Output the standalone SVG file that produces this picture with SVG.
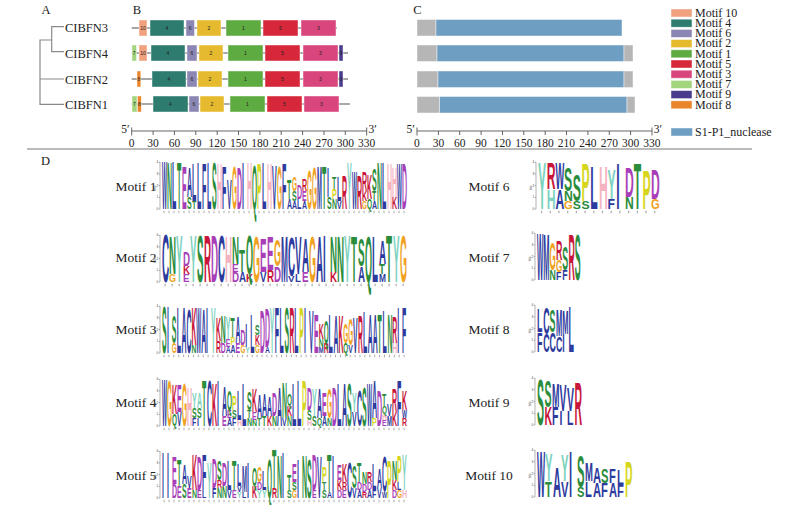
<svg xmlns="http://www.w3.org/2000/svg" xmlns:xlink="http://www.w3.org/1999/xlink" width="800" height="505" viewBox="0 0 800 505">
<style>
.t{font-family:"Liberation Serif","Times New Roman",serif;fill:#222}
.pl{font-size:12.5px}
.lab{font-size:12.5px}
.lg{font-size:12px}
.mt{font-size:13.5px;text-anchor:middle}
.axt{font-size:11.5px;text-anchor:middle}
.tr{stroke:#8a8a8a;stroke-width:1.2;fill:none}
.ln{stroke:#8a8a8a;stroke-width:1.4}
.bx{stroke:#fff;stroke-opacity:.55;stroke-width:.8}
.bl{font-family:"Liberation Sans",Arial,sans-serif;font-size:5px;fill:#222;text-anchor:middle}
.sep{stroke:#777;stroke-width:1}
.axl{stroke:#555;stroke-width:.9;fill:none}
.m10{fill:#F0A17E}.m4{fill:#2E7B6F}.m6{fill:#8C86B4}.m2{fill:#E6BA2E}.m1{fill:#5EAB41}
.m5{fill:#D7273A}.m3{fill:#D9457D}.m7{fill:#A3D57F}.m9{fill:#4A3C8C}.m8{fill:#E9862B}
.gy{fill:#B6B6B6}.bu{fill:#6F9EC3}
.L text{font-family:"Liberation Sans",Arial,sans-serif;font-weight:bold;font-size:14px}
.b{fill:#2D3A9E}.g{fill:#2B8C3B}.p{fill:#A83FB8}.r{fill:#C8163A}.h{fill:#F5B3C0}.o{fill:#F0A323}.y{fill:#D6D61E}.c{fill:#7ED2C0}
.ya{stroke:#444;stroke-width:.4;fill:none}
.tn{font-family:"Liberation Sans",Arial,sans-serif;font-size:3px;fill:#444;text-anchor:end}
.pos{stroke:#666;stroke-opacity:.55;stroke-width:2.6;fill:none}
</style>
<defs>
<g id="axis">
<path class="axl" d="M131.7 131H366.7M131.7 127.5V135.5M366.7 127.5V135.5M153.1 131V135M174.4 131V135M195.8 131V135M217.2 131V135M238.5 131V135M259.9 131V135M281.2 131V135M302.6 131V135M324 131V135M345.3 131V135"/>
<g class="t axt">
<text x="131.7" y="146.5">0</text><text x="153.1" y="146.5">30</text><text x="174.4" y="146.5">60</text><text x="195.8" y="146.5">90</text><text x="217.2" y="146.5">120</text><text x="238.5" y="146.5">150</text><text x="259.9" y="146.5">180</text><text x="281.2" y="146.5">210</text><text x="302.6" y="146.5">240</text><text x="324" y="146.5">270</text><text x="345.3" y="146.5">300</text><text x="366.7" y="146.5">330</text>
</g>
<text class="t" x="129.5" y="132.5" font-size="11.5" text-anchor="end">5′</text>
<text class="t" x="368.5" y="132.5" font-size="11.5">3′</text>
</g>
<g id="yax">
<path class="ya" d="M-2 0V-47M-3.3 0H-2M-3.3 -11.7H-2M-3.3 -23.4H-2M-3.3 -35.1H-2M-3.3 -46.8H-2"/>
<text class="tn" x="-3.8" y="1">0</text><text class="tn" x="-3.8" y="-10.7">1</text><text class="tn" x="-3.8" y="-22.4">2</text><text class="tn" x="-3.8" y="-34.1">3</text><text class="tn" x="-3.8" y="-45.8">4</text>
<text class="tn" transform="translate(-6.5 -23.4) rotate(-90)" text-anchor="middle">bits</text>
</g>
</defs>
<rect width="800" height="505" fill="#fff"/>

<g id="panel-labels" class="t pl">
<text x="41.5" y="14">A</text><text x="132.7" y="14">B</text><text x="413.3" y="13.5">C</text><text x="41" y="165">D</text>
</g>

<g id="connectors">
<path class="tr" d="M64 26.7H51.7V51.7H64M51.7 40H40V104.3H64M40 79H64"/>
<path class="ln" d="M131.7 28H337M131.7 53H348M131.7 79H348M131.7 104H350"/>
<line class="sep" x1="27" y1="149" x2="752" y2="149"/>
</g>

<g id="tree-labels" class="t lab">
<text id="CIBFN3" x="65" y="32">CIBFN3</text>
<text id="CIBFN4" x="65" y="57.5">CIBFN4</text>
<text id="CIBFN2" x="65" y="83.5">CIBFN2</text>
<text id="CIBFN1" x="65" y="108.5">CIBFN1</text>
</g>

<g id="motifs-CIBFN3">
<rect class="bx m10" x="139" y="20" width="8" height="16"/><text class="bl" x="143" y="29.8">10</text>
<rect class="bx m4" x="150" y="20" width="34" height="16"/><text class="bl" x="167" y="29.8">4</text>
<rect class="bx m6" x="186" y="20" width="8.5" height="16"/><text class="bl" x="190.2" y="29.8">6</text>
<rect class="bx m2" x="197" y="20" width="24" height="16"/><text class="bl" x="209" y="29.8">2</text>
<rect class="bx m1" x="226" y="20" width="35" height="16"/><text class="bl" x="243.5" y="29.8">1</text>
<rect class="bx m5" x="263" y="20" width="35" height="16"/><text class="bl" x="280.5" y="29.8">5</text>
<rect class="bx m3" x="301" y="20" width="35" height="16"/><text class="bl" x="318.5" y="29.8">3</text>
</g>
<g id="motifs-CIBFN4">
<rect class="bx m7" x="132" y="45" width="4.5" height="16"/><text class="bl" x="134.2" y="54.8">7</text>
<rect class="bx m10" x="139" y="45" width="8" height="16"/><text class="bl" x="143" y="54.8">10</text>
<rect class="bx m4" x="151" y="45" width="34" height="16"/><text class="bl" x="168" y="54.8">4</text>
<rect class="bx m6" x="187" y="45" width="10" height="16"/><text class="bl" x="192" y="54.8">6</text>
<rect class="bx m2" x="199" y="45" width="24" height="16"/><text class="bl" x="211" y="54.8">2</text>
<rect class="bx m1" x="228" y="45" width="35" height="16"/><text class="bl" x="245.5" y="54.8">1</text>
<rect class="bx m5" x="265" y="45" width="35" height="16"/><text class="bl" x="282.5" y="54.8">5</text>
<rect class="bx m3" x="303" y="45" width="35" height="16"/><text class="bl" x="320.5" y="54.8">3</text>
<rect class="bx m9" x="339" y="45" width="4" height="16"/><text class="bl" x="341" y="54.8">9</text>
</g>
<g id="motifs-CIBFN2">
<rect class="bx m8" x="137" y="71" width="3.8" height="16"/><text class="bl" x="138.9" y="80.8">8</text>
<rect class="bx m4" x="152" y="71" width="34" height="16"/><text class="bl" x="169" y="80.8">4</text>
<rect class="bx m6" x="187" y="71" width="10" height="16"/><text class="bl" x="192" y="80.8">6</text>
<rect class="bx m2" x="198" y="71" width="24" height="16"/><text class="bl" x="210" y="80.8">2</text>
<rect class="bx m1" x="228" y="71" width="35" height="16"/><text class="bl" x="245.5" y="80.8">1</text>
<rect class="bx m5" x="265" y="71" width="35" height="16"/><text class="bl" x="282.5" y="80.8">5</text>
<rect class="bx m3" x="303" y="71" width="35" height="16"/><text class="bl" x="320.5" y="80.8">3</text>
<rect class="bx m9" x="339" y="71" width="4" height="16"/><text class="bl" x="341" y="80.8">9</text>
</g>
<g id="motifs-CIBFN1">
<rect class="bx m7" x="132" y="96" width="5" height="16"/><text class="bl" x="134.5" y="105.8">7</text>
<rect class="bx m8" x="137.5" y="96" width="3.8" height="16"/><text class="bl" x="139.4" y="105.8">8</text>
<rect class="bx m4" x="153" y="96" width="35" height="16"/><text class="bl" x="170.5" y="105.8">4</text>
<rect class="bx m6" x="189" y="96" width="10" height="16"/><text class="bl" x="194" y="105.8">6</text>
<rect class="bx m2" x="200" y="96" width="24" height="16"/><text class="bl" x="212" y="105.8">2</text>
<rect class="bx m1" x="230" y="96" width="35" height="16"/><text class="bl" x="247.5" y="105.8">1</text>
<rect class="bx m5" x="267" y="96" width="35" height="16"/><text class="bl" x="284.5" y="105.8">5</text>
<rect class="bx m3" x="304" y="96" width="35" height="16"/><text class="bl" x="321.5" y="105.8">3</text>
</g>

<g id="domains">
<rect class="bx gy" x="417" y="19.5" width="19" height="16.5"/><rect class="bx bu" x="436" y="19.5" width="186" height="16.5"/>
<rect class="bx gy" x="417" y="45" width="20" height="16.5"/><rect class="bx bu" x="437" y="45" width="187" height="16.5"/><rect class="bx gy" x="624" y="45" width="9" height="16.5"/>
<rect class="bx gy" x="417" y="71" width="21" height="16.5"/><rect class="bx bu" x="438" y="71" width="186" height="16.5"/><rect class="bx gy" x="624" y="71" width="9" height="16.5"/>
<rect class="bx gy" x="417" y="96.5" width="22.5" height="16.5"/><rect class="bx bu" x="439.5" y="96.5" width="187.5" height="16.5"/><rect class="bx gy" x="627" y="96.5" width="8" height="16.5"/>
</g>

<g id="axisB"><use href="#axis"/></g>
<g id="axisC"><use href="#axis" x="285.3"/></g>

<g id="legend" class="t lg">
<rect class="bx m10" x="671" y="9" width="21" height="8"/><text x="695" y="16.8">Motif 10</text>
<rect class="bx m4" x="671" y="19.2" width="21" height="8"/><text x="695" y="27">Motif 4</text>
<rect class="bx m6" x="671" y="29.4" width="21" height="8"/><text x="695" y="37.2">Motif 6</text>
<rect class="bx m2" x="671" y="39.6" width="21" height="8"/><text x="695" y="47.4">Motif 2</text>
<rect class="bx m1" x="671" y="49.8" width="21" height="8"/><text x="695" y="57.6">Motif 1</text>
<rect class="bx m5" x="671" y="60" width="21" height="8"/><text x="695" y="67.8">Motif 5</text>
<rect class="bx m3" x="671" y="70.2" width="21" height="8"/><text x="695" y="78">Motif 3</text>
<rect class="bx m7" x="671" y="80.4" width="21" height="8"/><text x="695" y="88.2">Motif 7</text>
<rect class="bx m9" x="671" y="90.6" width="21" height="8"/><text x="695" y="98.4">Motif 9</text>
<rect class="bx m8" x="671" y="100.8" width="21" height="8"/><text x="695" y="108.6">Motif 8</text>
<rect class="bx bu" x="671" y="128" width="21.5" height="8"/><text x="695" y="135.8">S1-P1_nuclease</text>
</g>

<g id="motif-labels" class="t mt">
<text x="136" y="191">Motif 1</text><text x="136" y="261.5">Motif 2</text><text x="136" y="334">Motif 3</text><text x="136" y="407">Motif 4</text><text x="136" y="479.5">Motif 5</text>
<text x="489" y="191">Motif 6</text><text x="489" y="261.5">Motif 7</text><text x="489" y="334">Motif 8</text><text x="489" y="407">Motif 9</text><text x="489" y="479.5">Motif 10</text>
</g>

<g id="logo-axes">
<use href="#yax" x="162" y="209"/><use href="#yax" x="162" y="282"/><use href="#yax" x="162" y="353"/><use href="#yax" x="162" y="426"/><use href="#yax" x="162" y="498"/>
<use href="#yax" x="538" y="209"/><use href="#yax" x="537" y="280"/><use href="#yax" x="537" y="352"/><use href="#yax" x="537" y="425"/><use href="#yax" x="537" y="497"/>
<path class="pos" stroke-dasharray="1 4" d="M163.5 212H407"/>
<path class="pos" stroke-dasharray="1.2 5.8" d="M164.5 285H407"/>
<path class="pos" stroke-dasharray="1 3.9" d="M163.5 356H407"/>
<path class="pos" stroke-dasharray="1 4" d="M163.5 429H407"/>
<path class="pos" stroke-dasharray="1 4" d="M163.5 501H407"/>
<path class="pos" stroke-dasharray="1.2 7.5" d="M541 212H660"/>
</g>

<g id="logo1" class="L" transform="translate(162 209) scale(.5 1)">
<text class="b" transform="matrix(.76 0 0 4.9 0 0)">W</text>
<text class="g" transform="matrix(1 0 0 4.8 10 0)">N</text>
<text class="b" transform="matrix(1 0 0 4.9 20 0)">L</text>
<text class="g" transform="matrix(1 0 0 4.7 30 0)">T</text>
<text class="p" transform="matrix(1 0 0 4.4 40 0)">E</text>
<text class="g" transform="matrix(1 0 0 1.2 50 0)">S</text><text class="b" transform="matrix(1 0 0 3 50 -12)">A</text>
<text class="g" transform="matrix(1 0 0 .8 60 0)">T</text><text class="b" transform="matrix(1 0 0 3.8 60 -8)">L</text>
<text class="b" transform="matrix(1 0 0 4.7 70 0)">L</text>
<text class="b" transform="matrix(1 0 0 4.6 80 0)">F</text>
<text class="b" transform="matrix(1 0 0 4.8 90 0)">L</text>
<text class="g" transform="matrix(1 0 0 4.7 100 0)">S</text>
<text class="h" transform="matrix(1 0 0 4.6 110 0)">H</text>
<text class="b" transform="matrix(1 0 0 4.4 120 0)">F</text>
<text class="b" transform="matrix(1 0 0 3 130 0)">V</text>
<text class="o" transform="matrix(.92 0 0 4.3 140 0)">G</text>
<text class="p" transform="matrix(1 0 0 4.2 150 0)">D</text>
<text class="b" transform="matrix(1 0 0 4.8 160 0)">I</text>
<text class="h" transform="matrix(1 0 0 4.7 170 0)">H</text>
<text class="g" transform="matrix(.92 0 0 4.5 180 0)">Q</text>
<text class="y" transform="matrix(1 0 0 4.6 190 0)">P</text>
<text class="b" transform="matrix(1 0 0 4.8 200 0)">L</text>
<text class="h" transform="matrix(1 0 0 4.6 210 0)">H</text>
<text class="b" transform="matrix(1 0 0 4.5 220 0)">V</text>
<text class="o" transform="matrix(.92 0 0 4.4 230 0)">G</text>
<text class="b" transform="matrix(1 0 0 4.6 240 0)">F</text>
<text class="b" transform="matrix(1 0 0 1 250 0)">A</text><text class="g" transform="matrix(1 0 0 2 250 -10)">T</text>
<text class="b" transform="matrix(1 0 0 .8 260 0)">A</text><text class="g" transform="matrix(1 0 0 1 260 -8)">S</text><text class="o" transform="matrix(.92 0 0 1.5 260 -18)">G</text>
<text class="b" transform="matrix(1 0 0 1 270 0)">L</text><text class="p" transform="matrix(1 0 0 1.4 270 -10)">D</text>
<text class="b" transform="matrix(1 0 0 .8 280 0)">A</text><text class="p" transform="matrix(1 0 0 1 280 -8)">E</text><text class="r" transform="matrix(1 0 0 1.2 280 -18)">R</text>
<text class="o" transform="matrix(.92 0 0 4 290 0)">G</text>
<text class="o" transform="matrix(.92 0 0 4.2 300 0)">G</text>
<text class="b" transform="matrix(.85 0 0 4.4 310 0)">M</text>
<text class="g" transform="matrix(1 0 0 4.4 320 0)">T</text>
<text class="g" transform="matrix(1 0 0 1.2 330 0)">S</text><text class="b" transform="matrix(1 0 0 3 330 -12)">I</text>
<text class="g" transform="matrix(1 0 0 1 340 0)">N</text><text class="y" transform="matrix(1 0 0 1 340 -10)">P</text><text class="g" transform="matrix(1 0 0 1.2 340 -20)">T</text>
<text class="b" transform="matrix(1 0 0 .8 350 0)">V</text><text class="b" transform="matrix(1 0 0 2.5 350 -8)">L</text>
<text class="r" transform="matrix(1 0 0 3.5 360 0)">R</text>
<text class="c" transform="matrix(1 0 0 4.7 370 0)">Y</text>
<text class="b" transform="matrix(.76 0 0 3.8 380 0)">W</text>
<text class="r" transform="matrix(1 0 0 3.5 390 0)">R</text>
<text class="o" transform="matrix(.92 0 0 .8 400 0)">G</text><text class="r" transform="matrix(1 0 0 1 400 -8)">K</text><text class="r" transform="matrix(1 0 0 2 400 -18)">R</text>
<text class="g" transform="matrix(.92 0 0 1 410 0)">Q</text><text class="r" transform="matrix(1 0 0 2.5 410 -10)">K</text>
<text class="b" transform="matrix(1 0 0 .8 420 0)">A</text><text class="g" transform="matrix(1 0 0 1 420 -8)">T</text><text class="g" transform="matrix(1 0 0 2.2 420 -18)">S</text>
<text class="g" transform="matrix(1 0 0 4.7 430 0)">N</text>
<text class="b" transform="matrix(1 0 0 4.8 440 0)">L</text>
<text class="h" transform="matrix(1 0 0 4.6 450 0)">H</text>
<text class="r" transform="matrix(1 0 0 1.2 460 0)">K</text><text class="h" transform="matrix(1 0 0 3 460 -12)">H</text>
<text class="b" transform="matrix(.76 0 0 4.6 470 0)">W</text>
<text class="p" transform="matrix(1 0 0 4.6 480 0)">D</text>
</g>

<g id="logo2" class="L" transform="translate(162 282) scale(.7 1)">
<text class="b" transform="matrix(1 0 0 4.9 0 0)">C</text>
<text class="o" transform="matrix(.92 0 0 .8 10 0)">G</text><text class="g" transform="matrix(1 0 0 3.8 10 -8)">N</text>
<text class="c" transform="matrix(1 0 0 4.7 20 0)">Y</text>
<text class="p" transform="matrix(1 0 0 .8 30 0)">E</text><text class="r" transform="matrix(1 0 0 .8 30 -8)">K</text><text class="p" transform="matrix(1 0 0 1.4 30 -16)">D</text>
<text class="c" transform="matrix(1 0 0 4.7 40 0)">Y</text>
<text class="g" transform="matrix(1 0 0 4.8 50 0)">S</text>
<text class="r" transform="matrix(1 0 0 4.8 60 0)">R</text>
<text class="p" transform="matrix(1 0 0 4.8 70 0)">D</text>
<text class="b" transform="matrix(1 0 0 4.7 80 0)">C</text>
<text class="h" transform="matrix(1 0 0 4.6 90 0)">H</text>
<text class="p" transform="matrix(1 0 0 1 100 0)">D</text><text class="p" transform="matrix(1 0 0 .8 100 -10)">E</text><text class="g" transform="matrix(1 0 0 2.8 100 -18)">N</text>
<text class="b" transform="matrix(1 0 0 1 110 0)">A</text><text class="g" transform="matrix(1 0 0 2.2 110 -10)">T</text>
<text class="r" transform="matrix(1 0 0 .8 120 0)">K</text><text class="g" transform="matrix(.92 0 0 4 120 -8)">Q</text>
<text class="o" transform="matrix(.92 0 0 4.6 130 0)">G</text>
<text class="b" transform="matrix(1 0 0 1 140 0)">V</text><text class="p" transform="matrix(1 0 0 3.4 140 -10)">E</text>
<text class="r" transform="matrix(1 0 0 1.2 150 0)">R</text><text class="p" transform="matrix(1 0 0 3.4 150 -12)">E</text>
<text class="p" transform="matrix(1 0 0 1.6 160 0)">D</text><text class="o" transform="matrix(.92 0 0 2.6 160 -16)">G</text>
<text class="b" transform="matrix(.85 0 0 4.6 170 0)">M</text>
<text class="b" transform="matrix(1 0 0 .6 180 0)">V</text><text class="b" transform="matrix(1 0 0 4 180 -6)">C</text>
<text class="b" transform="matrix(1 0 0 .8 190 0)">L</text><text class="b" transform="matrix(1 0 0 3.8 190 -8)">V</text>
<text class="p" transform="matrix(1 0 0 1 200 0)">E</text><text class="b" transform="matrix(1 0 0 3.4 200 -10)">A</text>
<text class="o" transform="matrix(.92 0 0 4.6 210 0)">G</text>
<text class="b" transform="matrix(1 0 0 4.6 220 0)">A</text>
<text class="b" transform="matrix(1 0 0 4.8 230 0)">I</text>
<text class="r" transform="matrix(1 0 0 1 240 0)">K</text><text class="g" transform="matrix(1 0 0 3.6 240 -10)">N</text>
<text class="g" transform="matrix(1 0 0 4.6 250 0)">N</text>
<text class="c" transform="matrix(1 0 0 4.7 260 0)">Y</text>
<text class="g" transform="matrix(1 0 0 4.6 270 0)">T</text>
<text class="b" transform="matrix(1 0 0 1.6 280 0)">A</text><text class="g" transform="matrix(1 0 0 2.8 280 -16)">S</text>
<text class="g" transform="matrix(.92 0 0 4.6 290 0)">Q</text>
<text class="b" transform="matrix(1 0 0 4.6 300 0)">L</text>
<text class="b" transform="matrix(.85 0 0 .8 310 0)">M</text><text class="g" transform="matrix(1 0 0 1 310 -8)">T</text><text class="b" transform="matrix(1 0 0 2.4 310 -18)">A</text>
<text class="g" transform="matrix(1 0 0 4.7 320 0)">T</text>
<text class="c" transform="matrix(1 0 0 4.7 330 0)">Y</text>
<text class="o" transform="matrix(.92 0 0 4.7 340 0)">G</text>
</g>

<g id="logo3" class="L" transform="translate(162 353) scale(.49 1)">
<text class="g" transform="matrix(1 0 0 4.8 0 0)">S</text>
<text class="b" transform="matrix(1 0 0 4.7 10 0)">I</text>
<text class="o" transform="matrix(.92 0 0 1 20 0)">G</text><text class="g" transform="matrix(1 0 0 2.8 20 -10)">S</text>
<text class="b" transform="matrix(1 0 0 4.6 30 0)">L</text>
<text class="b" transform="matrix(1 0 0 4.6 40 0)">A</text>
<text class="b" transform="matrix(1 0 0 4.5 50 0)">C</text>
<text class="g" transform="matrix(1 0 0 .8 60 0)">N</text><text class="r" transform="matrix(1 0 0 3.8 60 -8)">K</text>
<text class="b" transform="matrix(.76 0 0 4.6 70 0)">W</text>
<text class="b" transform="matrix(1 0 0 4.5 80 0)">A</text>
<text class="b" transform="matrix(1 0 0 4.6 90 0)">I</text>
<text class="c" transform="matrix(1 0 0 4.6 100 0)">Y</text>
<text class="r" transform="matrix(1 0 0 1.2 110 0)">R</text><text class="r" transform="matrix(1 0 0 2.4 110 -12)">K</text>
<text class="p" transform="matrix(1 0 0 1 120 0)">D</text><text class="g" transform="matrix(1 0 0 2.8 120 -10)">N</text>
<text class="b" transform="matrix(1 0 0 .6 130 0)">A</text><text class="p" transform="matrix(1 0 0 .8 130 -6)">E</text><text class="c" transform="matrix(1 0 0 2.2 130 -14)">Y</text>
<text class="b" transform="matrix(1 0 0 .8 140 0)">A</text><text class="y" transform="matrix(1 0 0 .8 140 -8)">P</text><text class="g" transform="matrix(1 0 0 2 140 -16)">T</text>
<text class="p" transform="matrix(1 0 0 1 150 0)">E</text><text class="b" transform="matrix(1 0 0 2.6 150 -10)">A</text>
<text class="o" transform="matrix(.92 0 0 .8 160 0)">G</text><text class="p" transform="matrix(1 0 0 1.6 160 -8)">D</text>
<text class="c" transform="matrix(1 0 0 .6 170 0)">Y</text><text class="b" transform="matrix(1 0 0 2.4 170 -6)">I</text>
<text class="b" transform="matrix(1 0 0 4 180 0)">L</text>
<text class="o" transform="matrix(.92 0 0 .8 190 0)">G</text><text class="r" transform="matrix(1 0 0 1 190 -8)">K</text><text class="g" transform="matrix(1 0 0 1 190 -18)">S</text>
<text class="p" transform="matrix(1 0 0 4.4 200 0)">D</text>
<text class="b" transform="matrix(1 0 0 .6 210 0)">A</text><text class="p" transform="matrix(1 0 0 4 210 -6)">D</text>
<text class="c" transform="matrix(1 0 0 4.6 220 0)">Y</text>
<text class="b" transform="matrix(1 0 0 4.6 230 0)">F</text>
<text class="b" transform="matrix(1 0 0 4.6 240 0)">L</text>
<text class="g" transform="matrix(1 0 0 4.6 250 0)">S</text>
<text class="r" transform="matrix(1 0 0 4.6 260 0)">R</text>
<text class="b" transform="matrix(1 0 0 4.6 270 0)">L</text>
<text class="y" transform="matrix(1 0 0 4.6 280 0)">P</text>
<text class="b" transform="matrix(1 0 0 4.6 290 0)">I</text>
<text class="b" transform="matrix(1 0 0 4.4 300 0)">V</text>
<text class="p" transform="matrix(1 0 0 4 310 0)">E</text>
<text class="b" transform="matrix(.85 0 0 .6 320 0)">M</text><text class="g" transform="matrix(1 0 0 .8 320 -6)">N</text><text class="r" transform="matrix(1 0 0 1.6 320 -14)">K</text>
<text class="r" transform="matrix(1 0 0 1 330 0)">R</text><text class="g" transform="matrix(.92 0 0 2.2 330 -10)">Q</text>
<text class="b" transform="matrix(1 0 0 4 340 0)">L</text>
<text class="b" transform="matrix(1 0 0 3.8 350 0)">A</text>
<text class="r" transform="matrix(1 0 0 3.8 360 0)">K</text>
<text class="g" transform="matrix(.92 0 0 1 370 0)">Q</text><text class="o" transform="matrix(.92 0 0 2 370 -10)">G</text>
<text class="b" transform="matrix(1 0 0 .8 380 0)">V</text><text class="o" transform="matrix(.92 0 0 2.6 380 -8)">G</text>
<text class="b" transform="matrix(1 0 0 3.6 390 0)">V</text>
<text class="r" transform="matrix(1 0 0 3.8 400 0)">R</text>
<text class="b" transform="matrix(1 0 0 4.2 410 0)">L</text>
<text class="b" transform="matrix(1 0 0 4 420 0)">A</text>
<text class="b" transform="matrix(1 0 0 4 430 0)">A</text>
<text class="g" transform="matrix(1 0 0 4 440 0)">T</text>
<text class="b" transform="matrix(1 0 0 4.4 450 0)">L</text>
<text class="g" transform="matrix(1 0 0 4 460 0)">N</text>
<text class="h" transform="matrix(1 0 0 1 470 0)">H</text><text class="r" transform="matrix(1 0 0 2.6 470 -10)">R</text>
<text class="b" transform="matrix(1 0 0 4.6 480 0)">I</text>
<text class="b" transform="matrix(1 0 0 4.6 490 0)">F</text>
</g>

<g id="logo4" class="L" transform="translate(162 426) scale(.5 1)">
<text class="b" transform="matrix(.76 0 0 4.7 0 0)">W</text>
<text class="o" transform="matrix(.92 0 0 4.6 10 0)">G</text>
<text class="g" transform="matrix(.92 0 0 1.2 20 0)">Q</text><text class="r" transform="matrix(1 0 0 3 20 -12)">K</text>
<text class="b" transform="matrix(1 0 0 1.4 30 0)">V</text><text class="p" transform="matrix(1 0 0 2.8 30 -14)">E</text>
<text class="o" transform="matrix(.92 0 0 4.4 40 0)">G</text>
<text class="h" transform="matrix(1 0 0 4 50 0)">H</text>
<text class="b" transform="matrix(1 0 0 .8 60 0)">F</text><text class="g" transform="matrix(1 0 0 1 60 -8)">S</text><text class="c" transform="matrix(1 0 0 1.6 60 -18)">Y</text>
<text class="b" transform="matrix(1 0 0 .8 70 0)">I</text><text class="g" transform="matrix(1 0 0 1 70 -8)">S</text><text class="c" transform="matrix(1 0 0 1.6 70 -18)">A</text>
<text class="g" transform="matrix(1 0 0 4.6 80 0)">T</text>
<text class="b" transform="matrix(1 0 0 4.6 90 0)">C</text>
<text class="r" transform="matrix(1 0 0 4.4 100 0)">K</text>
<text class="b" transform="matrix(1 0 0 4.6 110 0)">I</text>
<text class="p" transform="matrix(1 0 0 1 120 0)">E</text><text class="b" transform="matrix(1 0 0 3 120 -10)">A</text>
<text class="b" transform="matrix(1 0 0 .8 130 0)">A</text><text class="p" transform="matrix(1 0 0 .8 130 -8)">E</text><text class="g" transform="matrix(.92 0 0 2 130 -16)">Q</text>
<text class="b" transform="matrix(1 0 0 .8 140 0)">F</text><text class="g" transform="matrix(1 0 0 .8 140 -8)">S</text><text class="y" transform="matrix(1 0 0 1.4 140 -16)">P</text>
<text class="h" transform="matrix(1 0 0 .6 150 0)">H</text><text class="b" transform="matrix(1 0 0 3 150 -6)">L</text>
<text class="b" transform="matrix(1 0 0 4.4 160 0)">L</text>
<text class="g" transform="matrix(1 0 0 .8 170 0)">N</text><text class="g" transform="matrix(1 0 0 .8 170 -8)">T</text><text class="g" transform="matrix(1 0 0 1.8 170 -16)">S</text>
<text class="g" transform="matrix(1 0 0 .6 180 0)">N</text><text class="p" transform="matrix(1 0 0 .8 180 -6)">E</text><text class="r" transform="matrix(1 0 0 2.4 180 -14)">K</text>
<text class="g" transform="matrix(1 0 0 .8 190 0)">T</text><text class="b" transform="matrix(1 0 0 2.4 190 -8)">A</text>
<text class="g" transform="matrix(1 0 0 1 200 0)">T</text><text class="b" transform="matrix(1 0 0 2.2 200 -10)">A</text>
<text class="r" transform="matrix(1 0 0 1 210 0)">K</text><text class="b" transform="matrix(1 0 0 2 210 -10)">A</text>
<text class="g" transform="matrix(1 0 0 1 220 0)">N</text><text class="p" transform="matrix(1 0 0 2.4 220 -10)">D</text>
<text class="b" transform="matrix(1 0 0 4 230 0)">A</text>
<text class="b" transform="matrix(1 0 0 .8 240 0)">V</text><text class="g" transform="matrix(1 0 0 3.6 240 -8)">N</text>
<text class="g" transform="matrix(1 0 0 1 250 0)">N</text><text class="r" transform="matrix(1 0 0 1 250 -10)">K</text><text class="g" transform="matrix(.92 0 0 1.2 250 -20)">Q</text>
<text class="b" transform="matrix(1 0 0 4.4 260 0)">L</text>
<text class="b" transform="matrix(1 0 0 4.6 270 0)">L</text>
<text class="y" transform="matrix(1 0 0 4.6 280 0)">P</text>
<text class="h" transform="matrix(1 0 0 .6 290 0)">H</text><text class="g" transform="matrix(1 0 0 1 290 -6)">S</text><text class="p" transform="matrix(1 0 0 2.2 290 -16)">D</text>
<text class="g" transform="matrix(1 0 0 1 300 0)">S</text><text class="c" transform="matrix(1 0 0 2.8 300 -10)">Y</text>
<text class="g" transform="matrix(.92 0 0 .8 310 0)">Q</text><text class="b" transform="matrix(1 0 0 3 310 -8)">A</text>
<text class="b" transform="matrix(1 0 0 1 320 0)">A</text><text class="p" transform="matrix(1 0 0 2.4 320 -10)">E</text>
<text class="g" transform="matrix(1 0 0 .8 330 0)">N</text><text class="o" transform="matrix(.92 0 0 3 330 -8)">G</text>
<text class="p" transform="matrix(1 0 0 4 340 0)">D</text>
<text class="b" transform="matrix(1 0 0 4.4 350 0)">L</text>
<text class="b" transform="matrix(1 0 0 4.4 360 0)">A</text>
<text class="g" transform="matrix(1 0 0 4.4 370 0)">S</text>
<text class="b" transform="matrix(1 0 0 1.4 380 0)">V</text><text class="c" transform="matrix(1 0 0 2 380 -14)">Y</text>
<text class="b" transform="matrix(1 0 0 3.6 390 0)">C</text>
<text class="g" transform="matrix(1 0 0 4 400 0)">S</text>
<text class="b" transform="matrix(.76 0 0 4.4 410 0)">W</text>
<text class="y" transform="matrix(1 0 0 .8 420 0)">P</text><text class="b" transform="matrix(1 0 0 3.8 420 -8)">A</text>
<text class="p" transform="matrix(1 0 0 3.6 430 0)">D</text>
<text class="p" transform="matrix(1 0 0 .6 440 0)">E</text><text class="h" transform="matrix(1 0 0 .6 440 -6)">H</text><text class="g" transform="matrix(.92 0 0 .8 440 -12)">Q</text><text class="g" transform="matrix(1 0 0 1.2 440 -20)">T</text>
<text class="b" transform="matrix(.85 0 0 1 450 0)">M</text><text class="b" transform="matrix(1 0 0 1.2 450 -10)">V</text>
<text class="r" transform="matrix(1 0 0 1.4 460 0)">K</text><text class="r" transform="matrix(1 0 0 2.4 460 -14)">R</text>
<text class="b" transform="matrix(1 0 0 4.6 470 0)">F</text>
<text class="r" transform="matrix(1 0 0 .8 480 0)">R</text><text class="b" transform="matrix(.76 0 0 .8 480 -8)">W</text><text class="r" transform="matrix(1 0 0 2 480 -16)">K</text>
</g>

<g id="logo5" class="L" transform="translate(162 498) scale(.5 1)">
<text class="b" transform="matrix(1 0 0 4.6 0 0)">I</text>
<text class="b" transform="matrix(1 0 0 4.6 10 0)">I</text>
<text class="p" transform="matrix(1 0 0 1.4 20 0)">D</text><text class="p" transform="matrix(1 0 0 2.8 20 -14)">E</text>
<text class="p" transform="matrix(1 0 0 1.2 30 0)">E</text><text class="g" transform="matrix(1 0 0 2.6 30 -12)">T</text>
<text class="g" transform="matrix(1 0 0 1.4 40 0)">S</text><text class="b" transform="matrix(1 0 0 2 40 -14)">A</text>
<text class="p" transform="matrix(1 0 0 1 50 0)">E</text><text class="b" transform="matrix(1 0 0 1.2 50 -10)">V</text>
<text class="g" transform="matrix(1 0 0 .8 60 0)">N</text><text class="r" transform="matrix(1 0 0 3.6 60 -8)">K</text>
<text class="p" transform="matrix(1 0 0 .8 70 0)">E</text><text class="p" transform="matrix(1 0 0 3.4 70 -8)">D</text>
<text class="b" transform="matrix(1 0 0 .6 80 0)">L</text><text class="b" transform="matrix(1 0 0 3.8 80 -6)">F</text>
<text class="c" transform="matrix(1 0 0 3.6 90 0)">Y</text>
<text class="b" transform="matrix(1 0 0 1 100 0)">F</text><text class="p" transform="matrix(1 0 0 3 100 -10)">D</text>
<text class="g" transform="matrix(1 0 0 1 110 0)">N</text><text class="r" transform="matrix(1 0 0 .8 110 -10)">R</text><text class="g" transform="matrix(1 0 0 2 110 -18)">S</text>
<text class="g" transform="matrix(1 0 0 1.2 120 0)">N</text><text class="p" transform="matrix(1 0 0 2.4 120 -12)">D</text>
<text class="b" transform="matrix(1 0 0 .8 130 0)">V</text><text class="b" transform="matrix(1 0 0 3 130 -8)">L</text>
<text class="p" transform="matrix(1 0 0 .8 140 0)">E</text><text class="g" transform="matrix(1 0 0 3 140 -8)">T</text>
<text class="c" transform="matrix(1 0 0 .6 150 0)">Y</text><text class="b" transform="matrix(1 0 0 .6 150 -6)">V</text><text class="b" transform="matrix(1 0 0 2.2 150 -12)">L</text>
<text class="b" transform="matrix(1 0 0 .6 160 0)">L</text><text class="b" transform="matrix(.85 0 0 2.6 160 -6)">M</text>
<text class="b" transform="matrix(1 0 0 3.6 170 0)">I</text>
<text class="r" transform="matrix(1 0 0 1.2 180 0)">K</text><text class="g" transform="matrix(.92 0 0 1.8 180 -12)">Q</text>
<text class="c" transform="matrix(1 0 0 .8 190 0)">Y</text><text class="p" transform="matrix(1 0 0 .8 190 -8)">D</text><text class="o" transform="matrix(.92 0 0 1.6 190 -16)">G</text>
<text class="c" transform="matrix(1 0 0 .8 200 0)">Y</text><text class="b" transform="matrix(1 0 0 2 200 -8)">L</text>
<text class="g" transform="matrix(.92 0 0 4 210 0)">Q</text>
<text class="r" transform="matrix(1 0 0 1 220 0)">R</text><text class="g" transform="matrix(1 0 0 4 220 -10)">T</text>
<text class="g" transform="matrix(1 0 0 4.4 230 0)">N</text>
<text class="b" transform="matrix(1 0 0 4.6 240 0)">I</text>
<text class="g" transform="matrix(1 0 0 .8 250 0)">S</text><text class="g" transform="matrix(1 0 0 1.6 250 -8)">T</text>
<text class="o" transform="matrix(.92 0 0 .8 260 0)">G</text><text class="g" transform="matrix(1 0 0 .8 260 -8)">S</text><text class="p" transform="matrix(1 0 0 1.8 260 -16)">E</text>
<text class="b" transform="matrix(1 0 0 4 270 0)">I</text>
<text class="g" transform="matrix(1 0 0 4.4 280 0)">N</text>
<text class="g" transform="matrix(1 0 0 4 290 0)">S</text>
<text class="p" transform="matrix(1 0 0 .8 300 0)">E</text><text class="p" transform="matrix(1 0 0 3.6 300 -8)">D</text>
<text class="b" transform="matrix(1 0 0 4.2 310 0)">V</text>
<text class="g" transform="matrix(1 0 0 .8 320 0)">S</text><text class="g" transform="matrix(1 0 0 .8 320 -8)">T</text><text class="y" transform="matrix(1 0 0 1.6 320 -16)">P</text>
<text class="b" transform="matrix(1 0 0 .6 330 0)">A</text><text class="g" transform="matrix(1 0 0 3.8 330 -6)">T</text>
<text class="b" transform="matrix(1 0 0 4.4 340 0)">I</text>
<text class="p" transform="matrix(1 0 0 .8 350 0)">D</text><text class="r" transform="matrix(1 0 0 1 350 -8)">K</text><text class="p" transform="matrix(1 0 0 1.6 350 -18)">E</text>
<text class="p" transform="matrix(1 0 0 .8 360 0)">E</text><text class="r" transform="matrix(1 0 0 .8 360 -8)">R</text><text class="r" transform="matrix(1 0 0 1.8 360 -16)">K</text>
<text class="b" transform="matrix(1 0 0 3.6 370 0)">C</text>
<text class="b" transform="matrix(1 0 0 1 380 0)">V</text><text class="g" transform="matrix(1 0 0 2.2 380 -10)">S</text>
<text class="b" transform="matrix(1 0 0 .8 390 0)">A</text><text class="p" transform="matrix(1 0 0 .8 390 -8)">D</text><text class="g" transform="matrix(1 0 0 2 390 -16)">T</text>
<text class="r" transform="matrix(1 0 0 .6 400 0)">R</text><text class="p" transform="matrix(1 0 0 .8 400 -6)">D</text><text class="g" transform="matrix(1 0 0 1.2 400 -14)">N</text>
<text class="b" transform="matrix(1 0 0 .8 410 0)">A</text><text class="p" transform="matrix(1 0 0 .8 410 -8)">D</text><text class="r" transform="matrix(1 0 0 1 410 -16)">R</text>
<text class="b" transform="matrix(1 0 0 .8 420 0)">F</text><text class="b" transform="matrix(1 0 0 2.6 420 -8)">L</text>
<text class="b" transform="matrix(1 0 0 1 430 0)">V</text><text class="b" transform="matrix(1 0 0 2 430 -10)">A</text>
<text class="b" transform="matrix(.76 0 0 .6 440 0)">W</text><text class="b" transform="matrix(1 0 0 3.6 440 -6)">C</text>
<text class="y" transform="matrix(1 0 0 3.8 450 0)">P</text>
<text class="p" transform="matrix(1 0 0 .8 460 0)">D</text><text class="r" transform="matrix(1 0 0 1 460 -8)">K</text><text class="g" transform="matrix(1 0 0 2 460 -18)">N</text>
<text class="o" transform="matrix(.92 0 0 .8 470 0)">G</text><text class="b" transform="matrix(1 0 0 .8 470 -8)">L</text><text class="y" transform="matrix(1 0 0 2.6 470 -16)">P</text>
<text class="h" transform="matrix(1 0 0 .8 480 0)">H</text><text class="c" transform="matrix(1 0 0 3.6 480 -8)">Y</text>
</g>

<g id="logo6" class="L" transform="translate(538 209) scale(.87 1)">
<text class="c" transform="matrix(1 0 0 4.8 0 0)">Y</text>
<text class="c" transform="matrix(1 0 0 2 10 0)">H</text><text class="r" transform="matrix(1 0 0 2.6 10 -20)">R</text>
<text class="b" transform="matrix(1 0 0 2 20 0)">A</text><text class="b" transform="matrix(.76 0 0 2.6 20 -20)">W</text>
<text class="o" transform="matrix(.92 0 0 .8 30 0)">G</text><text class="g" transform="matrix(1 0 0 1 30 -8)">N</text><text class="g" transform="matrix(1 0 0 2.4 30 -18)">S</text>
<text class="g" transform="matrix(1 0 0 .8 40 0)">S</text><text class="g" transform="matrix(1 0 0 2.6 40 -8)">S</text>
<text class="g" transform="matrix(1 0 0 .8 50 0)">S</text><text class="y" transform="matrix(1 0 0 3.8 50 -8)">P</text>
<text class="b" transform="matrix(1 0 0 4.4 60 0)">L</text>
<text class="h" transform="matrix(1 0 0 4.4 70 0)">H</text>
<text class="b" transform="matrix(1 0 0 1 80 0)">F</text><text class="c" transform="matrix(1 0 0 3 80 -10)">Y</text>
<text class="b" transform="matrix(1 0 0 4.6 90 0)">I</text>
<text class="g" transform="matrix(1 0 0 1.2 100 0)">N</text><text class="p" transform="matrix(1 0 0 3 100 -12)">D</text>
<text class="g" transform="matrix(1 0 0 4.6 110 0)">T</text>
<text class="y" transform="matrix(1 0 0 4 120 0)">P</text>
<text class="o" transform="matrix(.92 0 0 1 130 0)">G</text><text class="p" transform="matrix(1 0 0 3 130 -10)">D</text>
</g>

<g id="logo7" class="L" transform="translate(537 280) scale(.63 1)">
<text class="b" transform="matrix(.76 0 0 4.7 0 0)">W</text>
<text class="b" transform="matrix(.85 0 0 4.6 10 0)">M</text>
<text class="g" transform="matrix(1 0 0 1 20 0)">N</text><text class="o" transform="matrix(.92 0 0 2.8 20 -10)">G</text>
<text class="b" transform="matrix(1 0 0 .8 30 0)">F</text><text class="o" transform="matrix(.92 0 0 1.2 30 -8)">G</text><text class="r" transform="matrix(1 0 0 2 30 -20)">R</text>
<text class="b" transform="matrix(1 0 0 1 40 0)">F</text><text class="g" transform="matrix(1 0 0 2.4 40 -10)">S</text>
<text class="r" transform="matrix(1 0 0 4.6 50 0)">R</text>
<text class="g" transform="matrix(1 0 0 4.6 60 0)">S</text>
</g>

<g id="logo8" class="L" transform="translate(537 352) scale(.63 1)">
<text class="b" transform="matrix(1 0 0 2 0 0)">F</text><text class="b" transform="matrix(1 0 0 2.4 0 -20)">L</text>
<text class="b" transform="matrix(1 0 0 1.8 10 0)">C</text><text class="b" transform="matrix(1 0 0 2.6 10 -18)">C</text>
<text class="b" transform="matrix(1 0 0 2 20 0)">C</text><text class="g" transform="matrix(1 0 0 2.2 20 -20)">S</text>
<text class="b" transform="matrix(1 0 0 1.6 30 0)">C</text><text class="b" transform="matrix(.85 0 0 2.6 30 -16)">M</text>
<text class="b" transform="matrix(1 0 0 1.8 40 0)">I</text><text class="b" transform="matrix(.85 0 0 2.4 40 -18)">M</text>
<text class="b" transform="matrix(1 0 0 4.6 50 0)">L</text>
</g>

<g id="logo9" class="L" transform="translate(537 425) scale(.75 1)">
<text class="g" transform="matrix(1 0 0 4.6 0 0)">S</text>
<text class="r" transform="matrix(1 0 0 1.8 10 0)">K</text><text class="g" transform="matrix(1 0 0 2.6 10 -18)">S</text>
<text class="b" transform="matrix(1 0 0 1.8 20 0)">F</text><text class="b" transform="matrix(.85 0 0 2.4 20 -18)">M</text>
<text class="b" transform="matrix(1 0 0 1.4 30 0)">I</text><text class="b" transform="matrix(1 0 0 2.6 30 -14)">V</text>
<text class="b" transform="matrix(1 0 0 1.4 40 0)">L</text><text class="b" transform="matrix(1 0 0 2.4 40 -14)">V</text>
<text class="r" transform="matrix(1 0 0 4.4 50 0)">R</text>
</g>

<g id="logo10" class="L" transform="translate(537 497) scale(.8 1)">
<text class="b" transform="matrix(.76 0 0 4.6 0 0)">W</text>
<text class="g" transform="matrix(1 0 0 1.6 10 0)">T</text><text class="c" transform="matrix(1 0 0 2.8 10 -16)">Y</text>
<text class="b" transform="matrix(1 0 0 3 20 0)">A</text>
<text class="b" transform="matrix(1 0 0 1.6 30 0)">V</text><text class="c" transform="matrix(1 0 0 2.6 30 -16)">Y</text>
<text class="b" transform="matrix(1 0 0 4.6 40 0)">I</text>
<text class="g" transform="matrix(1 0 0 1 50 0)">S</text><text class="g" transform="matrix(1 0 0 3.2 50 -10)">S</text>
<text class="b" transform="matrix(1 0 0 1.6 60 0)">L</text><text class="b" transform="matrix(.85 0 0 1.8 60 -16)">M</text>
<text class="b" transform="matrix(1 0 0 1.4 70 0)">A</text><text class="b" transform="matrix(1 0 0 1.6 70 -14)">A</text>
<text class="b" transform="matrix(1 0 0 1.4 80 0)">F</text><text class="g" transform="matrix(1 0 0 1.4 80 -14)">S</text>
<text class="b" transform="matrix(1 0 0 1.4 90 0)">A</text><text class="b" transform="matrix(1 0 0 1.4 90 -14)">F</text>
<text class="b" transform="matrix(1 0 0 1.2 100 0)">F</text><text class="b" transform="matrix(1 0 0 1.6 100 -12)">L</text>
<text class="y" transform="matrix(1 0 0 3.6 110 0)">P</text>
</g>
</svg>
